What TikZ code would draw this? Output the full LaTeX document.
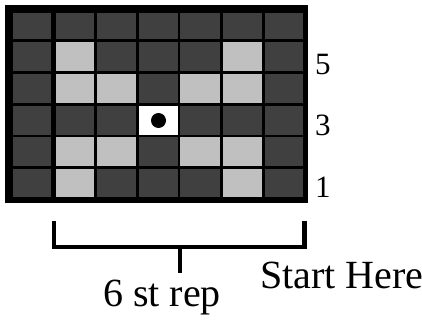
\documentclass[tikz,border=0pt]{standalone}
\usepackage{fontspec}
\setmainfont{Liberation Serif}
\usepackage{tikz}
\definecolor{darkcell}{RGB}{64,64,64}
\definecolor{lightcell}{RGB}{192,192,192}
\tikzset{
  rowlabel/.style={anchor=base west,inner sep=0pt,font=\fontsize{31}{33}\selectfont},
  bottomlabel/.style={inner sep=0pt,font=\fontsize{40}{42}\selectfont},
  bracketline/.style={line width=4.5pt,line join=miter}
}

\begin{document}
\begin{tikzpicture}[x=1pt,y=-1pt]
    \useasboundingbox (0,0) rectangle (422,326);

    % frame and dark cells
    \fill[black] (5,5) rectangle (308,203);
    \foreach \xl/\xr in {13/51,56/94,97/136,139/178,180/220,223/262,265/303}
      \foreach \yt/\yb in {13/39,42/71,74/103,106/135,137/166,169/197}
        \fill[darkcell] (\xl,\yt) rectangle (\xr,\yb);

    % light cells
    \fill[lightcell] (56,42) rectangle (94,71);
    \fill[lightcell] (223,42) rectangle (262,71);
    \fill[lightcell] (56,74) rectangle (94,103);
    \fill[lightcell] (97,74) rectangle (136,103);
    \fill[lightcell] (180,74) rectangle (220,103);
    \fill[lightcell] (223,74) rectangle (262,103);
    \fill[lightcell] (56,137) rectangle (94,166);
    \fill[lightcell] (97,137) rectangle (136,166);
    \fill[lightcell] (180,137) rectangle (220,166);
    \fill[lightcell] (223,137) rectangle (262,166);
    \fill[lightcell] (56,169) rectangle (94,197);
    \fill[lightcell] (223,169) rectangle (262,197);

    % centre cell with dot
    \fill[white] (139,106) rectangle (178,135);
    \fill[black] (158.5,120.5) circle (7.5);

    % row numbers
    \node[rowlabel] (row5) at (315,75) {5};
    \node[rowlabel] (row3) at (315,135) {3};
    \node[rowlabel] (row1) at (315,197) {1};

    % bracket under the stitches
    \coordinate (bl) at (54,221);
    \coordinate (br) at (304.5,221);
    \coordinate (bmid) at (180,247);
    \draw[bracketline] (bl) -- (54,247) -- (304.5,247) -- (br);
    \draw[bracketline] (bmid) -- (180,273);

    \node[bottomlabel,anchor=base] (rep) at (162,306) {6 st rep};
    \node[bottomlabel,anchor=base west] (start) at (260,288) {Start Here};
\end{tikzpicture}
\end{document}
